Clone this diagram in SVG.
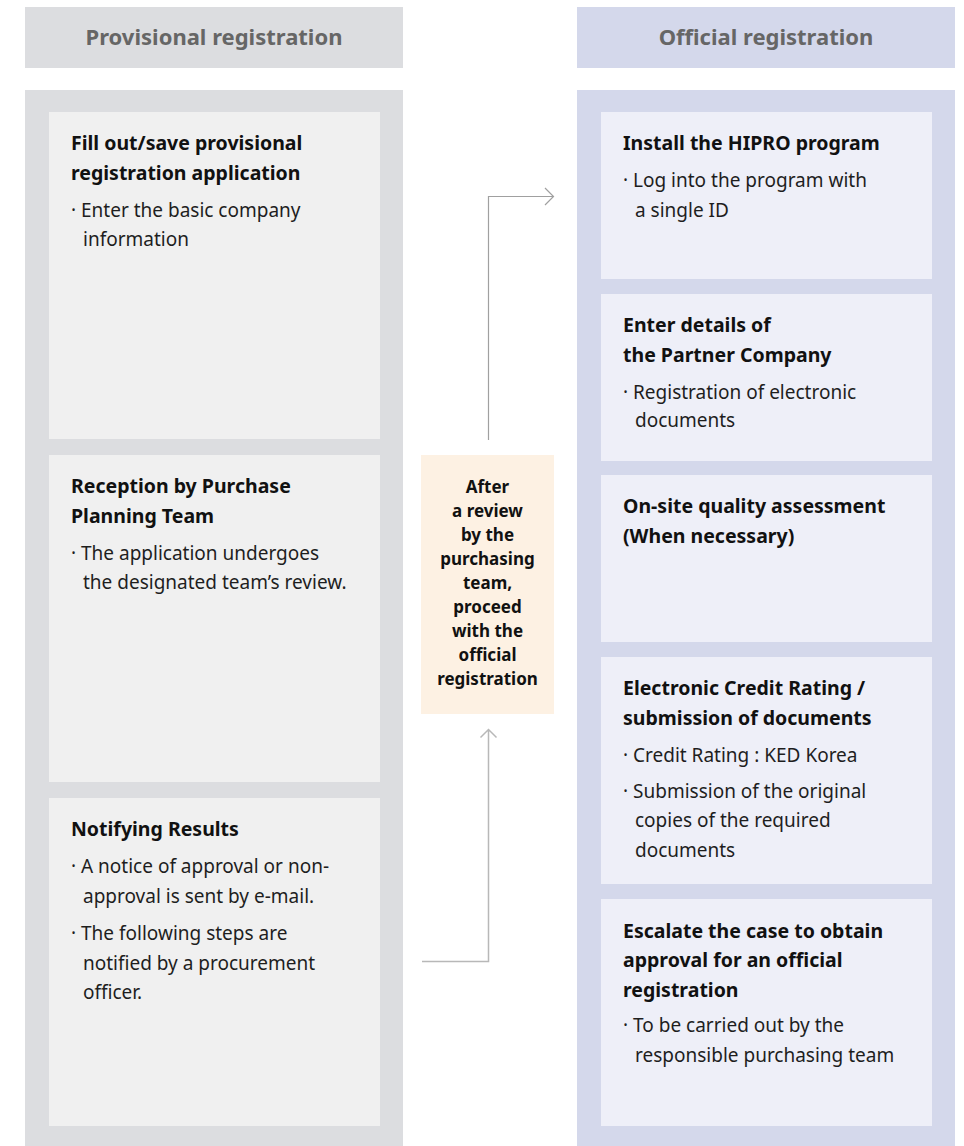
<svg xmlns="http://www.w3.org/2000/svg" width="964" height="1146" viewBox="0 0 964 1146">
<style>
text{font-family:"Noto Sans","Liberation Sans",sans-serif;}
.hd{font-size:22px;font-weight:bold;fill:#666;text-anchor:middle;}
.t{font-size:19.5px;font-weight:bold;fill:#111;}
.b{font-size:19px;fill:#1e1e1e;}
.m{font-size:17px;font-weight:bold;fill:#111;text-anchor:middle;}
.lbg{fill:#dcdde0;}
.lc{fill:#f0f0f0;}
.rbg{fill:#d4d8eb;}
.rc{fill:#eeeff8;}
.ln{fill:none;stroke:#a0a0a0;stroke-width:1.2;}
.ln2{fill:none;stroke:#b8b8b8;stroke-width:1.5;}
</style>
<rect class="lbg" x="25" y="7" width="378" height="61"/>
<text class="hd" x="214" y="45">Provisional registration</text>
<rect class="lbg" x="25" y="90" width="378" height="1056"/>
<rect class="rbg" x="577" y="7" width="378" height="61"/>
<text class="hd" x="766" y="45">Official registration</text>
<rect class="rbg" x="577" y="90" width="378" height="1056"/>

<g id="p1">
<rect class="lc" x="49" y="112" width="331" height="327"/>
<text class="t" x="71" y="150">Fill out/save provisional</text>
<text class="t" x="71" y="179.5">registration application</text>
<text class="b" x="71" y="216.5">· Enter the basic company</text>
<text class="b" x="83" y="245.5">information</text>
</g>
<g id="p2">
<rect class="lc" x="49" y="455" width="331" height="327"/>
<text class="t" x="71" y="493">Reception by Purchase</text>
<text class="t" x="71" y="522.5">Planning Team</text>
<text class="b" x="71" y="560">· The application undergoes</text>
<text class="b" x="83" y="589">the designated team’s review.</text>
</g>
<g id="p3">
<rect class="lc" x="49" y="798" width="331" height="328"/>
<text class="t" x="71" y="836">Notifying Results</text>
<text class="b" x="71" y="873">· A notice of approval or non-</text>
<text class="b" x="83" y="902.5">approval is sent by e-mail.</text>
<text class="b" x="71" y="940">· The following steps are</text>
<text class="b" x="83" y="969.5">notified by a procurement</text>
<text class="b" x="83" y="998.5">officer.</text>
</g>

<g id="mid">
<rect x="421" y="455" width="133" height="259" fill="#fdf1e3"/>
<text class="m" x="487.5" y="492.7">After</text>
<text class="m" x="487.5" y="516.7">a review</text>
<text class="m" x="487.5" y="540.7">by the</text>
<text class="m" x="487.5" y="564.7">purchasing</text>
<text class="m" x="487.5" y="588.7">team,</text>
<text class="m" x="487.5" y="612.7">proceed</text>
<text class="m" x="487.5" y="636.7">with the</text>
<text class="m" x="487.5" y="660.7">official</text>
<text class="m" x="487.5" y="684.7">registration</text>
</g>

<g id="o1">
<rect class="rc" x="601" y="112" width="331" height="167"/>
<text class="t" x="623" y="150">Install the HIPRO program</text>
<text class="b" x="623" y="187">· Log into the program with</text>
<text class="b" x="635" y="216.5">a single ID</text>
</g>
<g id="o2">
<rect class="rc" x="601" y="294" width="331" height="167"/>
<text class="t" x="623" y="332">Enter details of</text>
<text class="t" x="623" y="361.5">the Partner Company</text>
<text class="b" x="623" y="398.5">· Registration of electronic</text>
<text class="b" x="635" y="427">documents</text>
</g>
<g id="o3">
<rect class="rc" x="601" y="475" width="331" height="167"/>
<text class="t" x="623" y="513">On-site quality assessment</text>
<text class="t" x="623" y="542.5">(When necessary)</text>
</g>
<g id="o4">
<rect class="rc" x="601" y="657" width="331" height="227"/>
<text class="t" x="623" y="695">Electronic Credit Rating /</text>
<text class="t" x="623" y="724.5">submission of documents</text>
<text class="b" x="623" y="762">· Credit Rating : KED Korea</text>
<text class="b" x="623" y="797.5">· Submission of the original</text>
<text class="b" x="635" y="827">copies of the required</text>
<text class="b" x="635" y="856.5">documents</text>
</g>
<g id="o5">
<rect class="rc" x="601" y="899" width="331" height="227"/>
<text class="t" x="623" y="937.5">Escalate the case to obtain</text>
<text class="t" x="623" y="967">approval for an official</text>
<text class="t" x="623" y="996.5">registration</text>
<text class="b" x="623" y="1032">· To be carried out by the</text>
<text class="b" x="635" y="1061.5">responsible purchasing team</text>
</g>

<g id="connectors">
<path class="ln" d="M488.5 440 V196.5 H553.5 M545 188 L553.5 196.5 L545 205"/>
<path class="ln2" d="M422 961.5 H488.5 V729.5 M480.5 737.5 L488.5 729.5 L496.5 737.5"/>
</g>
</svg>
